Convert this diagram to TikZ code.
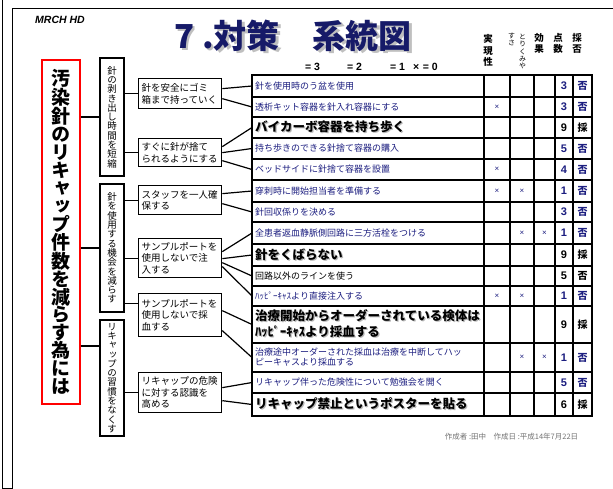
\documentclass[tikz,border=0pt]{standalone}
\usepackage{fontspec}
\setmainfont{Noto Sans CJK JP}
\newfontfamily\latf{Liberation Sans}
\newfontfamily\jpv[RawFeature=+vert]{Noto Sans CJK JP}
\definecolor{navy}{RGB}{28,30,128}
\definecolor{ttl}{RGB}{22,26,104}
\newcommand\shd[1]{\makebox[0pt][l]{\hspace{1.2pt}\raisebox{-1.2pt}{\textcolor{black!28}{#1}}}#1}
\newcommand\tshd[1]{\makebox[0pt][l]{\hspace{2.5pt}\raisebox{-2.5pt}{\textcolor{black!25}{#1}}}#1}
\begin{document}
\begin{tikzpicture}[x=1pt,y=-1pt,
  frame/.style={line width=1pt},
  mainbox/.style={draw=red, line width=1.3pt, minimum width=38pt, minimum height=344pt, inner sep=0pt, align=center, font=\jpv\bfseries\fontsize{19}{17.9}\selectfont},
  lvtwo/.style={draw, line width=1.3pt, minimum width=24pt, inner sep=0pt, align=center, font=\jpv\fontsize{9.5}{9.3}\selectfont},
  lvthree/.style={draw, line width=1.3pt, minimum width=83pt, text width=77pt, inner xsep=3pt, inner ysep=0pt, align=left, anchor=north west, font=\fontsize{9.5}{11.5}\selectfont},
  rowsm/.style={anchor=west, inner xsep=3pt, inner ysep=0pt, text=navy, align=left, font=\fontsize{9}{10}\selectfont},
  rowblk/.style={anchor=west, inner xsep=3pt, inner ysep=0pt, align=left, font=\fontsize{9}{10}\selectfont},
  rowbig/.style={anchor=west, inner xsep=3pt, inner ysep=0pt, align=left, font=\bfseries\fontsize{12.5}{16}\selectfont},
  grid/.style={line width=1.5pt, line cap=rect},
  conn/.style={line width=1.2pt},
  hdr/.style={inner sep=0pt, align=center, font=\jpv\bfseries\fontsize{9.5}{11.7}\selectfont},
  num/.style={inner sep=0pt, font=\latf\bfseries\fontsize{11}{11}\selectfont},
  vd/.style={inner sep=0pt, font=\bfseries\fontsize{10}{10}\selectfont},
  xm/.style={inner sep=0pt, text=navy, font=\latf\fontsize{8}{8}\selectfont},
  lg/.style={anchor=west, inner sep=0pt, font=\latf\bfseries\fontsize{10.5}{10.5}\selectfont}
]
\useasboundingbox (0,0) rectangle (613,489);
\fill[white] (0,0) rectangle (613,489);
% page frame
\draw[frame] (2,0) -- (2,488) -- (12,488) -- (12,9) -- (613,9);

% heading
\node[anchor=west, inner sep=0pt, font=\latf\bfseries\itshape\fontsize{10.5}{10.5}\selectfont] (brand) at (35,20) {MRCH HD};
\node[inner sep=0pt, text=ttl, font=\bfseries\fontsize{33}{33}\selectfont] (title) at (293,37) {\tshd{7 .対策　系統図}};

% legend
\node[lg] (lg3) at (305,67) {= 3};
\node[lg] (lg2) at (347,67) {= 2};
\node[lg] (lg1) at (390,67) {= 1};
\node[lg] (lg0) at (413,67) {×\,\,= 0};

% column headers
\node[hdr] (h1) at (488,50.5) {実\\現\\性};
\node[inner sep=0pt, align=center, font=\jpv\fontsize{7}{7.4}\selectfont] (h2a) at (522.5,51.5) {と\\り\\く\\み\\や};
\node[inner sep=0pt, align=center, font=\jpv\fontsize{7}{7.4}\selectfont] (h2b) at (511.5,39.5) {す\\さ};
\node[hdr, font=\jpv\bfseries\fontsize{9.5}{10.5}\selectfont] (h3) at (539,43.5) {効\\果};
\node[hdr, font=\jpv\bfseries\fontsize{9.5}{10.5}\selectfont] (h4) at (558,43.5) {点\\数};
\node[hdr, font=\jpv\bfseries\fontsize{9.5}{10.5}\selectfont] (h5) at (577,43.5) {採\\否};

% main goal
\node[mainbox] (main) at (61,232) {汚\\染\\針\\の\\リ\\キ\\ャ\\ッ\\プ\\件\\数\\を\\減\\ら\\す\\為\\に\\は};

% level 2
\node[lvtwo, minimum height=118pt] (A) at (112,117) {針\\の\\剥\\き\\出\\し\\時\\間\\を\\短\\縮};
\node[lvtwo, minimum height=128pt] (B) at (112,248) {針\\を\\使\\用\\す\\る\\機\\会\\を\\減\\ら\\す};
\node[lvtwo, minimum height=116pt] (C) at (112,378) {リ\\キ\\ャ\\ッ\\プ\\の\\習\\慣\\を\\な\\く\\す};

% level 3
\node[lvthree, minimum height=30pt] (b1) at (138,78) {針を安全にゴミ\\箱まで持っていく};
\node[lvthree, minimum height=28pt] (b2) at (138,138) {すぐに針が捨て\\られるようにする};
\node[lvthree, minimum height=29pt] (b3) at (138,185) {スタッフを一人確\\保する};
\node[lvthree, minimum height=39pt] (b4) at (138,238) {サンプルポートを\\使用しないで注\\入する};
\node[lvthree, minimum height=43pt] (b5) at (138,293) {サンプルポートを\\使用しないで採\\血する};
\node[lvthree, minimum height=40pt] (b6) at (138,372) {リキャップの危険\\に対する認識を\\高める};

% table grid
\foreach \y in {75,97,117,138,159,180,202,222,244,266,286,306,343,372,393,416}
  \draw[grid] (252,\y) -- (592,\y);
\foreach \x in {252,484,510,534,555,573,592}
  \draw[grid] (\x,75) -- (\x,416);

% table rows
\node[rowsm] (r1) at (252,86) {針を使用時のう盆を使用};
\node[rowsm] (r2) at (252,107) {透析キット容器を針入れ容器にする};
\node[rowbig] (r3) at (252,127.5) {\shd{バイカーボ容器を持ち歩く}};
\node[rowsm] (r4) at (252,148.5) {持ち歩きのできる針捨て容器の購入};
\node[rowsm] (r5) at (252,169.5) {ベッドサイドに針捨て容器を設置};
\node[rowsm] (r6) at (252,191) {穿刺時に開始担当者を準備する};
\node[rowsm] (r7) at (252,212) {針回収係りを決める};
\node[rowsm] (r8) at (252,233) {全患者返血静脈側回路に三方活栓をつける};
\node[rowbig] (r9) at (252,255) {\shd{針をくばらない}};
\node[rowblk] (r10) at (252,276) {回路以外のラインを使う};
\node[rowsm] (r11) at (252,296) {ﾊｯﾋﾟｰｷｬｽより直接注入する};
\node[rowbig] (r12) at (252,324.5) {\shd{治療開始からオーダーされている検体は}\\\shd{ﾊｯﾋﾟｰｷｬｽより採血する}};
\node[rowsm] (r13) at (252,357.5) {治療途中オーダーされた採血は治療を中断してハッ\\ピーキャスより採血する};
\node[rowsm] (r14) at (252,382.5) {リキャップ伴った危険性について勉強会を開く};
\node[rowbig] (r15) at (252,404.5) {\shd{リキャップ禁止というポスターを貼る}};

% scores and verdicts
\foreach \y/\n/\v/\c [count=\i] in {86/3/否/navy, 107/3/否/navy, 127.5/9/採/black, 148.5/5/否/navy, 169.5/4/否/navy, 191/1/否/navy, 212/3/否/navy, 233/1/否/navy, 255/9/採/black, 276/5/否/black, 296/1/否/navy, 324.5/9/採/black, 357.5/1/否/navy, 382.5/5/否/navy, 404.5/6/採/black}
{
  \node[num, text=\c] (sc\i) at (564,\y) {\n};
  \node[vd, text=\c] (vd\i) at (582.5,\y) {\v};
}

% x marks
\foreach \x/\y [count=\i] in {497/107, 497/169.5, 497/191, 522/191, 522/233, 544.5/233, 497/296, 522/296, 522/357.5, 544.5/357.5}
  \node[xm] (xm\i) at (\x,\y) {×};

% connectors: main -> level 2
\draw[conn] (main.east |- A.west) -- (A.west);
\draw[conn] (main.east |- B.west) -- (B.west);
\coordinate (cin) at ([yshift=32pt]C.west);
\draw[conn] (main.east |- cin) -- (cin);

% level 2 -> level 3
\draw[conn] (A.east |- b1.west) -- (b1.west);
\draw[conn] (A.east |- b2.west) -- (b2.west);
\draw[conn] (B.east |- b3.west) -- (b3.west);
\draw[conn] (B.east |- b4.west) -- (b4.west);
\coordinate (b5in) at ([yshift=11.5pt]b5.west);
\draw[conn] (B.east |- b5in) -- (b5in);
\draw[conn] (C.east |- b6.west) -- (b6.west);

% level 3 -> measures
\draw[conn] ([yshift=5pt]b1.east) -- (r1.west);
\draw[conn] ([yshift=-5pt]b1.east) -- (r2.west);
\draw[conn] ([yshift=6pt]b2.east) -- (r3.west);
\draw[conn] (b2.east) -- (r4.west);
\draw[conn] ([yshift=-8pt]b2.east) -- (r5.west);
\draw[conn] ([yshift=6.5pt]b3.east) -- (r6.west);
\draw[conn] ([yshift=-3.5pt]b3.east) -- (r7.west);
\draw[conn] ([yshift=6.5pt]b4.east) -- (r8.west);
\draw[conn] ([yshift=-0.5pt]b4.east) -- (r9.west);
\draw[conn] ([yshift=-4.5pt]b4.east) -- (r10.west);
\draw[conn] ([yshift=-8.5pt]b4.east) -- (r11.west);
\draw[conn] ([yshift=4.5pt]b5.east) -- (r12.west);
\draw[conn] ([yshift=-15.5pt]b5.east) -- (r13.west);
\draw[conn] ([yshift=5pt]b6.east) -- (r14.west);
\draw[conn] ([yshift=-8pt]b6.east) -- (r15.west);

% footer
\node[inner sep=0pt, text=black!55, font=\fontsize{7.5}{7.5}\selectfont] (foot) at (511.5,437) {作成者 :田中　作成日 :平成14年7月22日};
\end{tikzpicture}
\end{document}
